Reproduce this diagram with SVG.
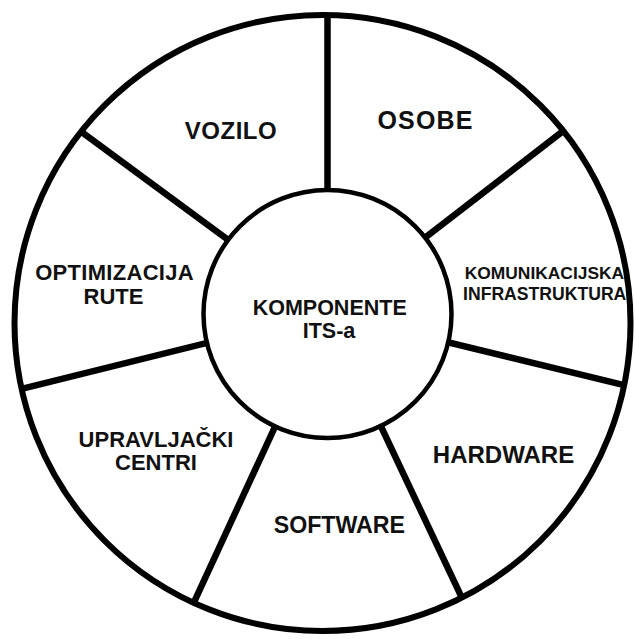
<svg xmlns="http://www.w3.org/2000/svg" width="635" height="639" viewBox="0 0 635 639">
<style>
.ring{fill:#fff;stroke:#000;stroke-width:6}
.hub{fill:#fff;stroke:#000;stroke-width:4.5}
.spoke{stroke:#000;stroke-width:6.5;stroke-linecap:butt}
.t{font-family:"Liberation Sans",Arial,sans-serif;font-weight:bold;fill:#111;text-anchor:middle}
</style>
<rect width="635" height="639" fill="#fff"/>
<g id="outer-ring"><circle class="ring" cx="322.5" cy="323" r="308"/></g>
<g id="connectors">
<line class="spoke" x1="327.5" y1="313" x2="327.5" y2="15"/>
<line class="spoke" x1="327.5" y1="313" x2="563.3" y2="130.9"/>
<line class="spoke" x1="327.5" y1="313" x2="624.1" y2="385.2"/>
<line class="spoke" x1="327.5" y1="313" x2="461.8" y2="597.7"/>
<line class="spoke" x1="327.5" y1="313" x2="193.7" y2="602.8"/>
<line class="spoke" x1="327.5" y1="313" x2="21.6" y2="388.9"/>
<line class="spoke" x1="327.5" y1="313" x2="81.1" y2="131.7"/>
</g>
<g id="center">
<circle class="hub" cx="327.5" cy="314" r="124"/>
<text class="t" font-size="21.5" x="329.7" y="315">KOMPONENTE</text>
<text class="t" font-size="21.5" x="329" y="338">ITS-a</text>
</g>
<g id="vozilo"><text class="t" font-size="24" letter-spacing="0.5" x="231" y="139">VOZILO</text></g>
<g id="osobe"><text class="t" font-size="25" letter-spacing="1.2" x="425.6" y="129">OSOBE</text></g>
<g id="komunikacijska"><text class="t" font-size="17.4" x="544.4" y="279">KOMUNIKACIJSKA</text><text class="t" font-size="17.6" x="544.7" y="300">INFRASTRUKTURA</text></g>
<g id="hardware"><text class="t" font-size="24" x="503.5" y="463">HARDWARE</text></g>
<g id="software"><text class="t" font-size="23.2" x="339.4" y="533">SOFTWARE</text></g>
<g id="upravljacki"><text class="t" font-size="22" x="156" y="447">UPRAVLJAČKI</text><text class="t" font-size="22" x="156" y="470">CENTRI</text></g>
<g id="optimizacija"><text class="t" font-size="22" letter-spacing="0.3" x="114.6" y="280">OPTIMIZACIJA</text><text class="t" font-size="22" x="113.5" y="304">RUTE</text></g>
</svg>
